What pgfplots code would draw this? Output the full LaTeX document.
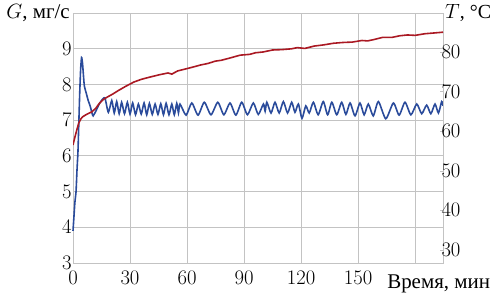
\documentclass[border=0pt]{standalone}
\usepackage{fontspec}
\setmainfont{Liberation Serif}
\usepackage{pgfplots}
\pgfplotsset{compat=1.18}
\definecolor{gridc}{RGB}{195,195,195}
\definecolor{gbl}{RGB}{42,75,155}
\definecolor{tred}{RGB}{170,25,35}
\begin{document}
\begin{tikzpicture}[font=\fontsize{21}{25}\selectfont]
\begin{axis}[name=ax, scale only axis, width=370bp, height=250bp,
  clip=false,
  xmin=0, xmax=194.7, ymin=3, ymax=10,
  xtick={0,30,...,180}, xticklabels={$0$,$30$,$60$,$90$,$120$,$150$,{}},
  ytick={3,...,10}, yticklabels={$3$,$4$,$5$,$6$,$7$,$8$,$9$,{}},
  grid=major, grid style={gridc, line width=0.8pt},
  axis line style={gridc, line width=0.8pt},
  major tick length=0pt,
  ticklabel style={font=\fontsize{21}{25}\selectfont},
  xticklabel style={yshift=-5bp},
  yticklabel style={xshift=2bp},
]
\addplot[gbl, line width=1.6pt, smooth, tension=0.4] coordinates {
(0,3.9)(0.5,4.3)(1,4.7)(1.6,5.0)(2.1,5.6)(2.6,6.1)(3,6.8)(3.5,7.7)(4,8.4)(4.5,8.75)(5,8.6)(5.5,8.25)(6,7.95)(7,7.75)(8,7.55)(9,7.4)(10,7.2)(10.6,7.12)(12,7.25)(13.5,7.42)(15,7.55)(16.8,7.62)
(18.6,7.22)(20.4,7.55)(21.7,7.2)(23,7.52)(24.3,7.18)(25.6,7.5)(27.1,7.18)(28.6,7.5)(30,7.17)(31.4,7.48)(32.9,7.15)(34.4,7.45)(35.9,7.17)(37.4,7.48)(38.8,7.15)(40.2,7.47)(41.7,7.16)(43.2,7.45)(44.7,7.16)(46.2,7.46)(47.6,7.15)(49,7.47)(50.5,7.15)(52,7.45)(53.3,7.15)(54.6,7.47)
(55.5,7.2)(56.3,7.45)(59.5,7.14)(62.5,7.48)(65.8,7.14)(69.1,7.5)(72.6,7.15)(76.2,7.5)(79.4,7.15)(82.6,7.48)(85.7,7.14)(88.8,7.5)(91.8,7.15)(94.9,7.48)(97.5,7.16)(100.2,7.45)
(101.1,7.25)(102,7.5)(104.2,7.2)(106.3,7.5)(108.5,7.2)(110.7,7.52)(112.9,7.2)(115.1,7.5)(116.8,7.22)(118.6,7.45)(120.5,7.05)(122.5,7.4)(124.3,7.2)(126.5,7.5)(129,7.15)(131.7,7.52)(134,7.15)(136.2,7.5)(138.8,7.15)(141.4,7.5)(143.6,7.16)(145.8,7.48)
(148.4,7.12)(151,7.48)(153.2,7.15)(155.4,7.45)(158,7.12)(160.7,7.52)(164.6,7.04)(168.6,7.48)(171.6,7.14)(174.7,7.5)(177.8,7.15)(180.9,7.45)(183.5,7.18)(186.1,7.42)(188.3,7.18)(190.5,7.45)(192.3,7.2)(194,7.52)(194.7,7.4)
};
\node[anchor=east, inner sep=0pt, xshift=-3bp] at (rel axis cs:0,1) {$G$, мг/с};
\node[anchor=base west, inner sep=0pt, yshift=-26bp] at (rel axis cs:0.849,0) {Время, мин};
\node[anchor=west, inner sep=0pt, xshift=2bp, font=\fontsize{20}{24}\selectfont] at (rel axis cs:1,1) {$T$, °C};
\end{axis}
\begin{axis}[scale only axis, width=370bp, height=250bp,
  xmin=0, xmax=194.7, ymin=26.7, ymax=89.85,
  axis y line*=right, axis x line=none,
  ytick={30,40,...,80},
  axis line style={gridc, line width=0.8pt},
  major tick length=3bp, tick style={gridc},
  ticklabel style={font=\fontsize{21}{25}\selectfont},
  yticklabel style={xshift=-5bp},
]
\addplot[tred, line width=1.6pt] coordinates {
(0,56.5)(1,58.5)(2,60.3)(3,62)(4,63)(5,63.6)(7,64.2)(10,64.9)(12,65.8)(14,67.1)(16,68)(18,68.6)(21,69.4)(24,70.3)(28,71.4)(32,72.4)(36,73.1)(40,73.6)(45,74.2)(50,74.7)(52,74.4)(55,75.2)(60,75.8)(64,76.3)(67,76.7)(71,77.1)(75,77.7)(78,77.9)(82,78.4)(85,78.8)(88,79.2)(93,79.4)(96,79.8)(100,80)(105,80.5)(110,80.6)(115,80.8)(118,81.1)(122,80.9)(127,81.5)(132,81.8)(137,82.2)(142,82.4)(147,82.5)(152,82.9)(155,82.8)(158,83.1)(163,83.7)(168,83.7)(172,84.1)(176,84.3)(180,84.2)(185,84.6)(190,84.8)(194.7,85)
};
\end{axis}
\pgfresetboundingbox
\path[use as bounding box] ([xshift=-73bp,yshift=-33bp]ax.south west) rectangle ([xshift=50bp,yshift=13bp]ax.north east);
\end{tikzpicture}
\end{document}
